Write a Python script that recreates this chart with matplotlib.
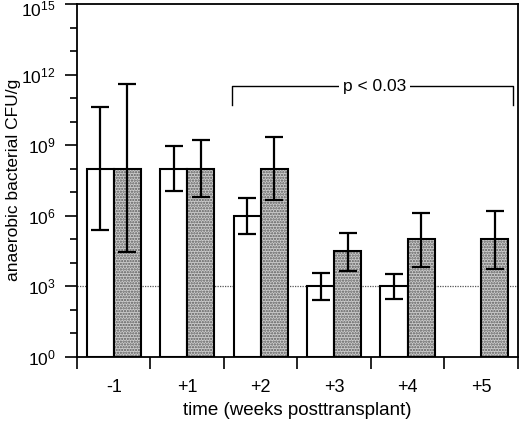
import numpy as np
import matplotlib
matplotlib.use("Agg")
import matplotlib.pyplot as plt
import matplotlib.transforms as mtransforms

plt.rcParams['font.family'] = ['Liberation Sans', 'DejaVu Sans']
plt.rcParams['mathtext.fontset'] = 'custom'
plt.rcParams['mathtext.rm'] = 'Liberation Sans'
plt.rcParams['mathtext.it'] = 'Liberation Sans:italic'
plt.rcParams['mathtext.bf'] = 'Liberation Sans:bold'
plt.rcParams['hatch.linewidth'] = 1.1

# ---- data ----
categories = ['-1', '+1', '+2', '+3', '+4', '+5']
white_vals = [1e8, 1e8, 1e6, 1e3, 1e3, np.nan]
white_lo = [2.5e5, 1.1e7, 1.6e5, 2.5e2, 2.8e2, np.nan]
white_hi = [4e10, 9.3e8, 5.6e6, 3.6e3, 3.2e3, np.nan]
stip_vals = [1e8, 1e8, 1e8, 3e4, 1e5, 1e5]
stip_lo = [2.7e4, 6.3e6, 4.5e6, 4.5e3, 6.8e3, 5.2e3]
stip_hi = [4e11, 1.6e9, 2.1e9, 1.8e5, 1.26e6, 1.6e6]
detection_limit = 1e3
ytick_exps = [0, 3, 6, 9, 12, 15]
p_text = 'p < 0.03'

fig = plt.figure(figsize=(5.2, 4.21), dpi=100)
ax = fig.add_axes([0.148, 0.153, 0.848, 0.8375])

n = len(categories)
x = np.arange(n) + 0.5
w = 0.37
xw = x - w / 2
xs = x + w / 2

ax.set_yscale('log')
ax.set_ylim(1, 1e15)
ax.set_xlim(0, n)

# detection limit dotted line
ax.plot([0, n], [detection_limit, detection_limit], color='#555555', lw=0.9,
        ls=(0, (1, 1)), zorder=1)

wv = np.array(white_vals)
sv = np.array(stip_vals)
mask_w = ~np.isnan(wv)

# white bars
ax.bar(xw[mask_w], wv[mask_w] - 1, bottom=1, width=w, facecolor='white',
       edgecolor='black', linewidth=1.5, zorder=2)
# stippled bars: hatch layer then outline
ax.bar(xs, sv - 1, bottom=1, width=w, facecolor='#cdcdcd', edgecolor='#5a5a5a',
       hatch='......', linewidth=0, zorder=2)
ax.bar(xs, sv - 1, bottom=1, width=w, facecolor='none',
       edgecolor='black', linewidth=1.5, zorder=3)

# error bars
wlo = np.array(white_lo); whi = np.array(white_hi)
slo = np.array(stip_lo); shi = np.array(stip_hi)
ax.errorbar(xw[mask_w], wv[mask_w],
            yerr=[wv[mask_w] - wlo[mask_w], whi[mask_w] - wv[mask_w]],
            fmt='none', ecolor='black', elinewidth=1.6, capsize=6.5, capthick=1.6, zorder=4)
ax.errorbar(xs, sv, yerr=[sv - slo, shi - sv],
            fmt='none', ecolor='black', elinewidth=1.6, capsize=6.5, capthick=1.6, zorder=4)

# significance bracket
bl, br = 2.105, 5.93
btop, bend = 10 ** 11.5, 10 ** 10.7
ax.plot([bl, bl, br, br], [bend, btop, btop, bend], color='black', lw=1.0, zorder=4)
ax.text((bl + br) / 2 + 0.03, btop, p_text, ha='center', va='center', fontsize=12.5,
        bbox=dict(facecolor='white', edgecolor='none', pad=3), zorder=5)

# y ticks
ax.set_yticks([10.0 ** e for e in ytick_exps])
ax.set_yticklabels([r'$\mathregular{10^{%d}}$' % e for e in ytick_exps], fontsize=12.5)
ax.set_yticks([10.0 ** e for e in range(16) if e not in ytick_exps], minor=True)
ax.yaxis.set_minor_formatter(matplotlib.ticker.NullFormatter())
ax.tick_params(axis='y', which='major', length=8.5, width=1.2, direction='out', pad=7)
ax.tick_params(axis='y', which='minor', length=5, width=1.2, direction='out')
# shift top label down so it fits inside the figure
top_lbl = ax.get_yticklabels()[-1]
top_lbl.set_transform(top_lbl.get_transform() +
                      mtransforms.ScaledTranslation(0, -4 / 100, fig.dpi_scale_trans))

# x ticks: boundaries as major ticks, labels at centers (minor)
ax.set_xticks(np.arange(n + 1))
ax.set_xticklabels([''] * (n + 1))
ax.set_xticks(x, minor=True)
ax.set_xticklabels(categories, minor=True, fontsize=13)
ax.tick_params(axis='x', which='major', length=8.6, width=1.2, direction='out')
ax.tick_params(axis='x', which='minor', length=0, pad=16)

for s in ax.spines.values():
    s.set_linewidth(1.3)

ax.set_xlabel('time (weeks posttransplant)', fontsize=13.5)
ax.xaxis.set_label_coords(0.5, -0.128)
ax.set_ylabel('anaerobic bacterial CFU/g', fontsize=12.5)
ax.yaxis.set_label_coords(-0.128, 0.5)

fig.savefig('out.png', dpi=100)
